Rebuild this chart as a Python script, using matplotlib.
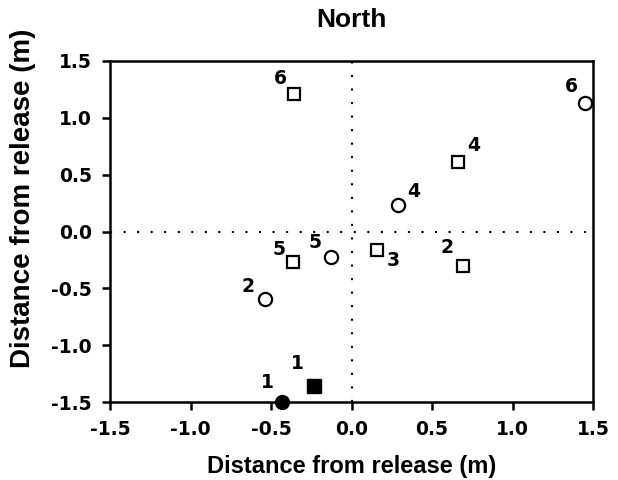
import matplotlib
matplotlib.use("Agg")
import matplotlib.pyplot as plt

plt.rcParams['font.family'] = ['Liberation Sans', 'DejaVu Sans']
plt.rcParams['font.weight'] = 'bold'

# Open squares
sq_x = [-0.36, -0.365, 0.16, 0.69, 0.66]
sq_y = [1.21, -0.27, -0.16, -0.30, 0.61]
sq_lab = ["6", "5", "3", "2", "4"]
# Open circles
ci_x = [1.45, 0.29, -0.13, -0.54]
ci_y = [1.13, 0.23, -0.22, -0.59]
ci_lab = ["6", "4", "5", "2"]
# Filled (start) points
fsq_x, fsq_y, fsq_lab = [-0.23], [-1.36], ["1"]
fci_x, fci_y, fci_lab = [-0.43], [-1.50], ["1"]

# label offsets in pixels
sq_off = [(-13, 15), (-14, 13), (16, -11), (-16, 18), (16, 17)]
ci_off = [(-14, 17), (15, 14), (-16, 14), (-17, 12)]
fsq_off = [(-17, 23)]
fci_off = [(-15, 19)]

W, H = 618, 480
fig = plt.figure(figsize=(W / 100, H / 100), dpi=100)
ax = fig.add_axes([110 / W, 1 - 402 / H, 483 / W, 341 / H])

ax.axhline(0, color='black', ls=(0, (1, 5.5)), lw=1.5, zorder=1)
ax.axvline(0, color='black', ls=(0, (1, 5.5)), lw=1.5, zorder=1)

ax.plot(sq_x, sq_y, 's', ms=9, mfc='white', mec='black', mew=1.6, clip_on=False, zorder=3)
ax.plot(ci_x, ci_y, 'o', ms=9.5, mfc='white', mec='black', mew=1.6, clip_on=False, zorder=3)
ax.plot(fsq_x, fsq_y, 's', ms=9.5, mfc='black', mec='black', clip_on=False, zorder=3)
ax.plot(fci_x, fci_y, 'o', ms=10, mfc='black', mec='black', clip_on=False, zorder=3)

num_font = dict(family='DejaVu Sans', fontsize=13.5, fontweight='bold')
for xs, ys, labs, offs in [(sq_x, sq_y, sq_lab, sq_off), (ci_x, ci_y, ci_lab, ci_off),
                           (fsq_x, fsq_y, fsq_lab, fsq_off), (fci_x, fci_y, fci_lab, fci_off)]:
    for x, y, t, o in zip(xs, ys, labs, offs):
        ax.annotate(t, (x, y), xytext=o, textcoords='offset pixels',
                    ha='center', va='center', **num_font)

ax.set_xlim(-1.5, 1.5)
ax.set_ylim(-1.5, 1.5)
ticks = [-1.5, -1.0, -0.5, 0.0, 0.5, 1.0, 1.5]
ax.set_xticks(ticks)
ax.set_yticks(ticks)
ax.set_xticklabels([f"{t:.1f}" for t in ticks], **num_font)
ax.set_yticklabels([f"{t:.1f}" for t in ticks], **num_font)
ax.tick_params(direction='out', length=6, width=1.8)
ax.tick_params(axis='x', pad=7)
ax.tick_params(axis='y', pad=7)
for s in ax.spines.values():
    s.set_linewidth(1.8)

fig.text(352 / W, 1 - 467 / H, "Distance from release (m)", fontsize=17,
         fontweight='bold', ha='center', va='center')
fig.text(23 / W, 1 - 198 / H, "Distance from release (m)", fontsize=20,
         fontweight='bold', ha='center', va='center', rotation=90)
fig.text(351 / W, 1 - 20 / H, "North", fontsize=19, fontweight='bold',
         ha='center', va='center')

fig.savefig("out.png", dpi=100)
